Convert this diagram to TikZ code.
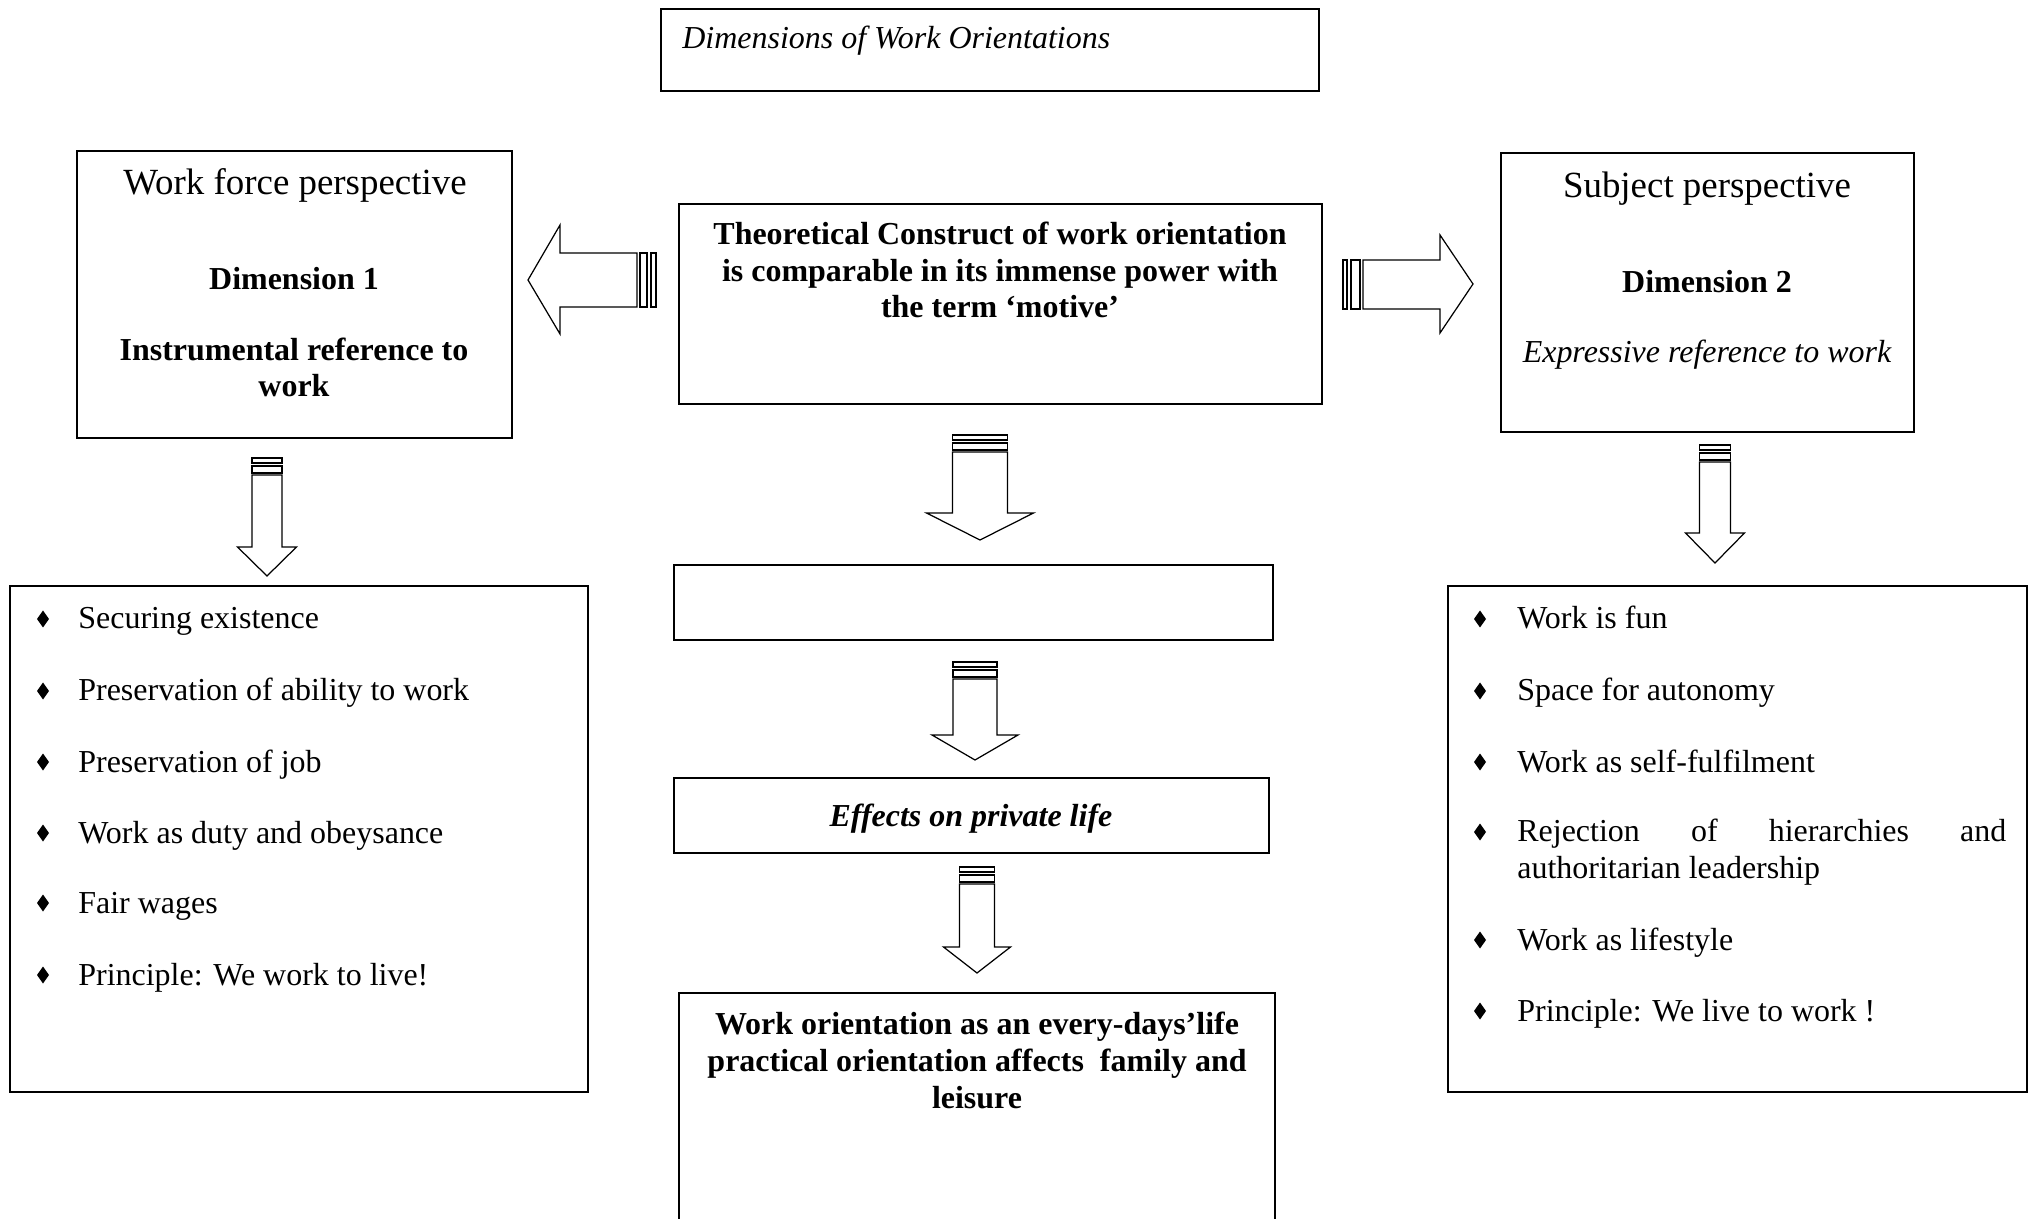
\documentclass[tikz,border=0pt]{standalone}
\usepackage{fontspec}
\setmainfont{Liberation Serif}
\usetikzlibrary{fit}
% block arrow pointing down: centre x, top y, half shaft, head y, half head, tip y
\newcommand{\downblock}[6]{%
\draw[blockline] (#1-#3,#2) rectangle (#1+#3,#2+5); %Outer stripe
\draw[blockline] (#1-#3,#2+8) rectangle (#1+#3,#2+15); %Inner stripe
\draw[blockline] (#1-#3,#2+17) -- (#1-#3,#4) -- (#1-#5,#4) -- (#1,#6) -- (#1+#5,#4) -- (#1+#3,#4) -- (#1+#3,#2+17) -- cycle;} %Shaft and head

\begin{document}
\begin{tikzpicture}[x=0.02cm,y=-0.02cm,
  box/.style={draw,line width=1.2pt,inner sep=0pt},
  blockline/.style={line width=0.7pt,line join=miter},
  txt/.style={inner sep=0pt,font=\fontsize{18.2}{21}\selectfont},
  bigtxt/.style={inner sep=0pt,font=\fontsize{21}{25}\selectfont}]
\useasboundingbox (0,0) rectangle (2036,1219); %Page size
\clip (0,0) rectangle (2036,1219); %Bottom box runs off the page

% title
\node[box,fit={(661,9) (1319,91)}] (title) {};
\node[txt,anchor=base west] (titletext) at (682,49) {\itshape Dimensions of Work Orientations};

% left box
\node[box,fit={(77,151) (512,438)}] (force) {};
\node[bigtxt,anchor=base] (forcehead) at (295,195) {Work force perspective};
\node[txt,anchor=base] (dimone) at (294,290) {\bfseries Dimension 1};
\node[txt,anchor=base,align=center,font=\fontsize{18.2}{21}\selectfont\bfseries] (instrumental) at (294,397) {Instrumental reference to\\work};

% centre box
\node[box,fit={(679,204) (1322,404)}] (construct) {};
\node[txt,anchor=base,align=center,font=\fontsize{18.2}{21}\selectfont\bfseries] (constructtext) at (1000,318) {Theoretical Construct of work orientation\\is comparable in its immense power with\\the term ‘motive’};

% right box
\node[box,fit={(1501,153) (1914,432)}] (subject) {};
\node[bigtxt,anchor=base] (subjecthead) at (1707,198) {Subject perspective};
\node[txt,anchor=base] (dimtwo) at (1707,293) {\bfseries Dimension 2};
\node[txt,anchor=base] (expressive) at (1707,363) {\itshape Expressive reference to work};

% side arrows
\draw[blockline] (528,280) -- (560,225) -- (560,253) -- (637,253) -- (637,307) -- (560,307) -- (560,334) -- cycle; %Left arrow
\draw[blockline] (640,253) rectangle (647,307); %Inner stripe
\draw[blockline] (651,253) rectangle (656,307); %Outer stripe
\draw[blockline] (1473,284) -- (1440,235) -- (1440,260) -- (1363,260) -- (1363,309) -- (1440,309) -- (1440,333) -- cycle; %Right arrow
\draw[blockline] (1351,260) rectangle (1360,309); %Inner stripe
\draw[blockline] (1343,260) rectangle (1347,309); %Outer stripe

% down arrows
\downblock{267}{458}{15}{547}{29.5}{576} %Left
\downblock{980}{435}{27.5}{513}{53.5}{540} %Centre, first
\downblock{975}{662}{22}{735}{43}{760} %Centre, second
\downblock{977}{867}{17.5}{947}{33.5}{973} %Centre, third
\downblock{1715}{445}{15.5}{533}{29.5}{563} %Right

% centre column
\node[box,fit={(674,565) (1273,640)}] (empty) {};
\node[box,fit={(674,778) (1269,853)}] (effects) {};
\node[txt,anchor=base] (effectstext) at (971,826) {\bfseries\itshape Effects on private life};
\node[box,fit={(679,993) (1275,1240)}] (everyday) {};
\node[txt,anchor=base,align=center,font=\fontsize{18.2}{21}\selectfont\bfseries] (everydaytext) at (977,1108) {Work orientation as an every-days’life\\practical orientation affects~ family and\\leisure};

% left bullets
\node[box,fit={(10,586) (588,1092)}] (instrlist) {};
\foreach \y/\t [count=\i] in {629/Securing existence, 701/Preservation of ability to work, 772/Preservation of job, 843/Work as duty and obeysance, 913/Fair wages, 985/Principle: We work to live!}{
  \fill (43,\y-10) +(0,-8.5) -- +(6,0) -- +(0,8.5) -- +(-6,0) -- cycle; %Bullet
  \node[txt,anchor=base west] (instr\i) at (78,\y) {\t};
}

% right bullets
\node[box,fit={(1448,586) (2027,1092)}] (exprlist) {};
\foreach \y in {629,701,772,842,950,1021}
  \fill (1480,\y-10) +(0,-8.5) -- +(6,0) -- +(0,8.5) -- +(-6,0) -- cycle; %Bullet
\node[txt,anchor=base west] (expr1) at (1517,629) {Work is fun};
\node[txt,anchor=base west] (expr2) at (1517,701) {Space for autonomy};
\node[txt,anchor=base west] (expr3) at (1517,772) {Work as self-fulfilment};
\node[txt,anchor=base west,align=left] (expr4) at (1517,878) {\makebox[9.78cm][s]{Rejection\hfill of\hfill hierarchies\hfill and}\\authoritarian leadership};
\node[txt,anchor=base west] (expr5) at (1517,950) {Work as lifestyle};
\node[txt,anchor=base west] (expr6) at (1517,1021) {Principle: We live to work !};
\end{tikzpicture}
\end{document}
